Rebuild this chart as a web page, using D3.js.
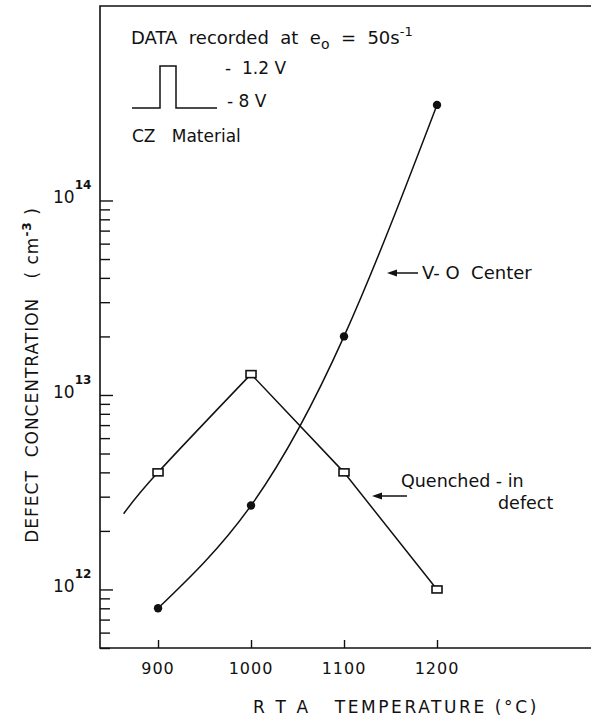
<!DOCTYPE html>
<html>
<head>
    <meta charset="utf-8">
    <title>Defect concentration vs RTA temperature</title>
    <script src="https://d3js.org/d3.v7.min.js"></script>
    <style>
        body { margin: 0; background: #fff; }
        svg text { font-family: "DejaVu Sans", sans-serif; fill: #111; white-space: pre; }
    </style>
</head>
<body>
<svg id="chart" width="591" height="719"></svg>

<script>
    // values
    var temps = [900, 1000, 1100, 1200];
    var voCenter = [8.0e11, 2.7e12, 2.0e13, 3.1e14];
    var quenched = [4.0e12, 1.28e13, 4.0e12, 1.0e12];
    // the quenched-in curve is drawn on a little to the left of 900 C
    var quenchedStart = [863, 2.45e12];
    var xTickValues = [900, 1000, 1100, 1200];
    var yMajorTicks = [1e12, 1e13, 1e14];
    var yMajorExps = ["12", "13", "14"];

    var svg = d3.select("#chart");
    var plotL = 100, plotR = 591, plotT = 6, plotB = 648;

    var x = d3.scaleLinear().domain([837.6, 1365.6]).range([plotL, plotR]);
    var y = d3.scaleLog().domain([5e11, 1e15]).range([plotB, plotT]);

    // frame
    svg.append("path")
        .attr("d", "M" + plotR + "," + plotT + "H" + plotL + "V" + plotB + "H" + plotR)
        .attr("fill", "none").attr("stroke", "#111").attr("stroke-width", 1.6);

    // y axis ticks (inward), minor and major
    var minorTicks = y.ticks().filter(function(v) { return v <= 1e14 && yMajorTicks.indexOf(v) < 0; });
    var yMinor = svg.append("g").attr("transform", "translate(" + plotL + ",0)")
        .call(d3.axisRight(y).tickValues(minorTicks).tickSize(10).tickFormat(""));
    var yMaj = svg.append("g").attr("transform", "translate(" + plotL + ",0)")
        .call(d3.axisRight(y).tickValues(yMajorTicks).tickSize(13).tickFormat(""));
    [yMinor, yMaj].forEach(function(g) {
        g.select(".domain").remove();
        g.selectAll("line").attr("stroke", "#111").attr("stroke-width", 1.4);
    });

    // y tick labels 10^n
    yMajorTicks.forEach(function(v, i) {
        var t = svg.append("text")
            .attr("x", 53).attr("y", y(v) + 3)
            .style("font-size", "17px");
        t.append("tspan").text("10");
        t.append("tspan").attr("dy", -14).style("font-size", "12px").style("font-weight", "bold").text(yMajorExps[i]);
    });

    // x axis ticks (inward)
    var xAx = svg.append("g").attr("transform", "translate(0," + plotB + ")")
        .call(d3.axisTop(x).tickValues(xTickValues).tickSize(8).tickFormat(""));
    xAx.select(".domain").remove();
    xAx.selectAll("line").attr("stroke", "#111").attr("stroke-width", 1.4);

    svg.append("g").selectAll("text")
        .data(xTickValues)
        .enter().append("text")
        .attr("x", function(d) { return x(d); })
        .attr("y", 674)
        .attr("text-anchor", "middle")
        .style("font-size", "16px")
        .style("letter-spacing", "1px")
        .text(function(d) { return d; });

    // axis titles
    svg.append("text")
        .attr("x", 253).attr("y", 713)
        .style("font-size", "17px")
        .style("letter-spacing", "2.6px")
        .text("R T A   TEMPERATURE (°C)");

    var yl = svg.append("text")
        .attr("transform", "translate(38,375) rotate(-90)")
        .attr("text-anchor", "middle")
        .style("font-size", "17px")
        .style("letter-spacing", "1px");
    yl.append("tspan").text("DEFECT  CONCENTRATION   ( cm");
    yl.append("tspan").attr("dy", -7).style("font-size", "12px").style("font-weight", "bold").text("-3");
    yl.append("tspan").attr("dy", 7).text(" )");

    // curves
    var line = d3.line()
        .x(function(d) { return x(d[0]); })
        .y(function(d) { return y(d[1]); });

    var voPts = temps.map(function(t, i) { return [t, voCenter[i]]; });
    var qPts = temps.map(function(t, i) { return [t, quenched[i]]; });

    svg.append("path")
        .attr("d", line.curve(d3.curveNatural)(voPts))
        .attr("fill", "none").attr("stroke", "#111").attr("stroke-width", 1.5);

    svg.append("path")
        .attr("d", line.curve(d3.curveNatural)([quenchedStart].concat(qPts.slice(0, 2))))
        .attr("fill", "none").attr("stroke", "#111").attr("stroke-width", 1.5);

    svg.append("path")
        .attr("d", line.curve(d3.curveLinear)(qPts.slice(1)))
        .attr("fill", "none").attr("stroke", "#111").attr("stroke-width", 1.5);

    // markers
    svg.append("g").selectAll("circle")
        .data(voPts)
        .enter().append("circle")
        .attr("cx", function(d) { return x(d[0]); })
        .attr("cy", function(d) { return y(d[1]); })
        .attr("r", 4.2)
        .attr("fill", "#111");

    svg.append("g").selectAll("rect")
        .data(qPts)
        .enter().append("rect")
        .attr("x", function(d) { return x(d[0]) - 5; })
        .attr("y", function(d) { return y(d[1]) - 3.5; })
        .attr("width", 10).attr("height", 7)
        .attr("fill", "#fff").attr("stroke", "#111").attr("stroke-width", 1.6);

    // annotation arrows
    function arrow(x1, x2, yy) {
        svg.append("line").attr("x1", x1 + 6).attr("x2", x2).attr("y1", yy).attr("y2", yy)
            .attr("stroke", "#111").attr("stroke-width", 1.5);
        svg.append("path")
            .attr("d", "M" + x1 + "," + yy + "L" + (x1 + 10) + "," + (yy - 3.5) + "L" + (x1 + 10) + "," + (yy + 3.5) + "Z")
            .attr("fill", "#111");
    }
    arrow(387, 418, 273);
    svg.append("text").attr("x", 422).attr("y", 279).style("font-size", "18px").text("V- O  Center");

    arrow(372, 407, 496);
    svg.append("text").attr("x", 401).attr("y", 487).style("font-size", "17.5px").text("Quenched - in");
    svg.append("text").attr("x", 498).attr("y", 509).style("font-size", "17.5px").text("defect");

    // inset: conditions and pulse
    var title = svg.append("text").attr("x", 131).attr("y", 44).style("font-size", "18px");
    title.append("tspan").text("DATA  recorded  at  e");
    title.append("tspan").attr("dy", 5).style("font-size", "14px").text("o");
    title.append("tspan").attr("dy", -5).text("  =  50s");
    title.append("tspan").attr("dy", -8).style("font-size", "13px").text("-1");

    svg.append("path")
        .attr("d", "M132,108H160V66H176V108H217")
        .attr("fill", "none").attr("stroke", "#111").attr("stroke-width", 1.5);
    svg.append("text").attr("x", 225).attr("y", 74).style("font-size", "17px").text("-  1.2 V");
    svg.append("text").attr("x", 227).attr("y", 107).style("font-size", "17px").text("- 8 V");
    svg.append("text").attr("x", 132).attr("y", 142).style("font-size", "17px").text("CZ   Material");
</script>
</body>
</html>
